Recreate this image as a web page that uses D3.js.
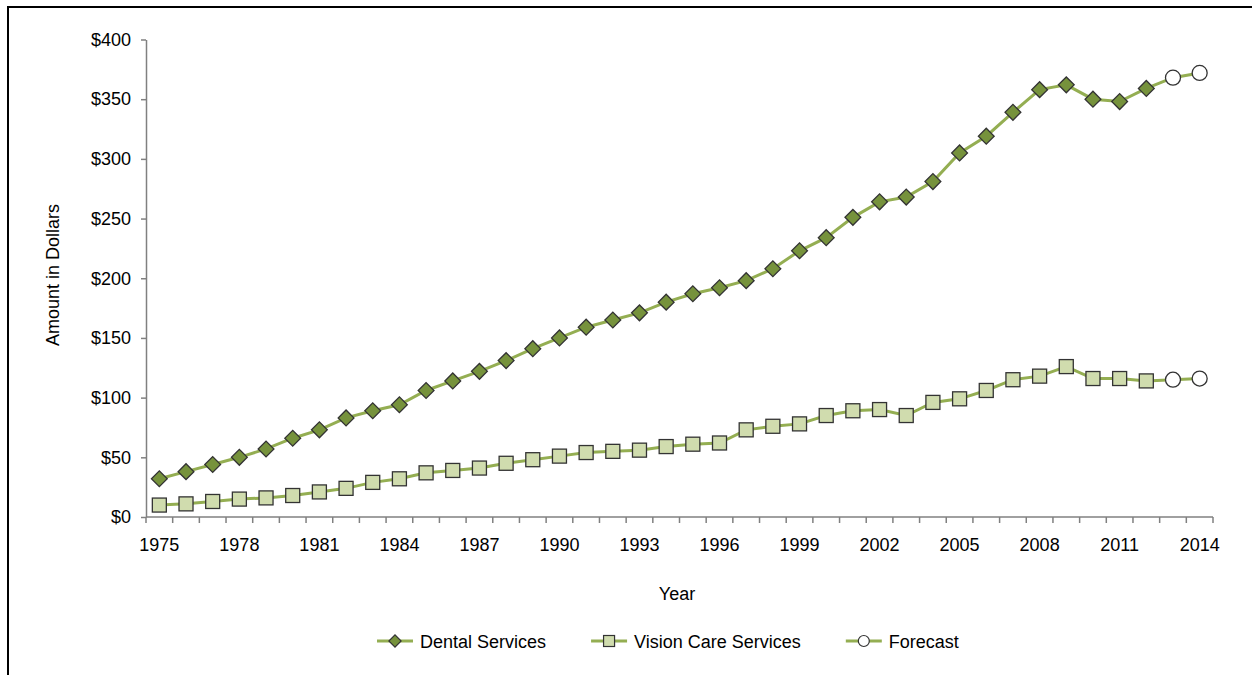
<!DOCTYPE html>
<html>
<head>
<meta charset="utf-8">
<script src="https://cdn.jsdelivr.net/npm/d3@7"></script>
<style>
  body { margin: 0; background: #fff; }
  svg { display: block; font-family: "Liberation Sans", Arial, sans-serif; }
</style>
</head>
<body>
<div id="chart"></div>
<script>
// years on the category axis
const years = d3.range(1975, 2015);
const labelYears = [1975, 1978, 1981, 1984, 1987, 1990, 1993, 1996, 1999, 2002, 2005, 2008, 2011, 2014];
const yTicks = [0, 50, 100, 150, 200, 250, 300, 350, 400];

// actual values, 1975-2012
const dental = [32, 38, 44, 50, 57, 66, 73, 83, 89, 94, 106, 114, 122, 131, 141, 150, 159, 165, 171, 180,
  187, 192, 198, 208, 223, 234, 251, 264, 268, 281, 305, 319, 339, 358, 362, 350, 348, 359];
const vision = [10, 11, 13, 15, 16, 18, 21, 24, 29, 32, 37, 39, 41, 45, 48, 51, 54, 55, 56, 59,
  61, 62, 73, 76, 78, 85, 89, 90, 85, 96, 99, 106, 115, 118, 126, 116, 116, 114];

// forecast, 2013-2014
const forecastYears = [2013, 2014];
const dentalForecast = [368, 372];
const visionForecast = [115, 116];

const W = 1252, H = 675;
const lineColor = "#94ae52";
const dentalFill = "#76923c";
const visionFill = "#d0dcae";
const markerStroke = "#333";

const svg = d3.select("#chart").append("svg")
    .attr("width", W)
    .attr("height", H);

// frame
svg.append("path")
    .attr("d", "M8,675 V7 H1252")
    .attr("fill", "none")
    .attr("stroke", "#000")
    .attr("stroke-width", 2);

const x = d3.scaleBand().domain(years).range([146, 1213]).padding(0);
const y = d3.scaleLinear().domain([0, 400]).range([517, 39.5]);
const cx = d => x(d) + x.bandwidth() / 2;

// y axis
const yAxis = svg.append("g")
    .attr("transform", "translate(146,0)")
    .call(d3.axisLeft(y).tickValues(yTicks).tickSize(5).tickSizeOuter(0).tickPadding(10)
      .tickFormat(d => "$" + d));
yAxis.select(".domain").attr("stroke", "#808080").attr("stroke-width", 1.5);
yAxis.selectAll(".tick line").attr("stroke", "#808080").attr("stroke-width", 1.5);
yAxis.selectAll("text").attr("font-size", 18).attr("fill", "#000")
    .attr("font-family", "Liberation Sans, Arial, sans-serif");

// x axis: ticks between categories, labels every 3 years
const xAxis = svg.append("g")
    .attr("transform", "translate(0,517)")
    .call(d3.axisBottom(x).tickValues(labelYears).tickSize(0).tickPadding(21));
xAxis.select(".domain").remove();
xAxis.selectAll("text").attr("font-size", 18).attr("fill", "#000")
    .attr("font-family", "Liberation Sans, Arial, sans-serif");

svg.append("line")
    .attr("x1", 146).attr("x2", 1213)
    .attr("y1", 517).attr("y2", 517)
    .attr("stroke", "#808080").attr("stroke-width", 1.5);

svg.append("g").selectAll("line")
  .data(years.concat([2015]))
  .join("line")
    .attr("x1", d => d === 2015 ? 1213 : x(d))
    .attr("x2", d => d === 2015 ? 1213 : x(d))
    .attr("y1", 517).attr("y2", 523)
    .attr("stroke", "#808080").attr("stroke-width", 1.5);

// axis titles
svg.append("text")
    .attr("transform", "translate(59,275) rotate(-90)")
    .attr("text-anchor", "middle")
    .attr("font-size", 18)
    .text("Amount in Dollars");

svg.append("text")
    .attr("x", 677).attr("y", 600)
    .attr("text-anchor", "middle")
    .attr("font-size", 18)
    .text("Year");

// series
const line = d3.line().x(d => cx(d[0])).y(d => y(d[1]));

const dentalPts = years.slice(0, dental.length).map((yr, i) => [yr, dental[i]]);
const visionPts = years.slice(0, vision.length).map((yr, i) => [yr, vision[i]]);
const dentalFc = forecastYears.map((yr, i) => [yr, dentalForecast[i]]);
const visionFc = forecastYears.map((yr, i) => [yr, visionForecast[i]]);

[dentalPts.concat(dentalFc), visionPts.concat(visionFc)].forEach(pts => {
  svg.append("path")
      .datum(pts)
      .attr("fill", "none")
      .attr("stroke", lineColor)
      .attr("stroke-width", 3)
      .attr("d", line);
});

const diamond = d3.symbol().type(d3.symbolSquare).size(125);

svg.append("g").selectAll("path")
  .data(dentalPts)
  .join("path")
    .attr("d", diamond)
    .attr("transform", d => `translate(${cx(d[0])},${y(d[1])}) rotate(45)`)
    .attr("fill", dentalFill)
    .attr("stroke", markerStroke)
    .attr("stroke-width", 1.3);

svg.append("g").selectAll("rect")
  .data(visionPts)
  .join("rect")
    .attr("x", d => cx(d[0]) - 7)
    .attr("y", d => y(d[1]) - 7)
    .attr("width", 14).attr("height", 14)
    .attr("fill", visionFill)
    .attr("stroke", markerStroke)
    .attr("stroke-width", 1.3);

svg.append("g").selectAll("circle")
  .data(dentalFc.concat(visionFc))
  .join("circle")
    .attr("cx", d => cx(d[0]))
    .attr("cy", d => y(d[1]))
    .attr("r", 7.5)
    .attr("fill", "#fff")
    .attr("stroke", markerStroke)
    .attr("stroke-width", 1.3);

// legend
const legendItems = [
  { name: "Dental Services", kind: "diamond" },
  { name: "Vision Care Services", kind: "square" },
  { name: "Forecast", kind: "circle" }
];
const legend = svg.append("g").attr("transform", "translate(0,641)");
let lx = 377;
legendItems.forEach(item => {
  const g = legend.append("g").attr("transform", `translate(${lx},0)`);
  g.append("line").attr("x1", 0).attr("x2", 36).attr("y1", 0).attr("y2", 0)
      .attr("stroke", lineColor).attr("stroke-width", 3);
  if (item.kind === "diamond") {
    g.append("path").attr("d", d3.symbol().type(d3.symbolSquare).size(75))
        .attr("transform", "translate(18,0) rotate(45)")
        .attr("fill", dentalFill).attr("stroke", markerStroke).attr("stroke-width", 1.2);
  } else if (item.kind === "square") {
    g.append("rect").attr("x", 12.5).attr("y", -5.5).attr("width", 11).attr("height", 11)
        .attr("fill", visionFill).attr("stroke", markerStroke).attr("stroke-width", 1.2);
  } else {
    g.append("circle").attr("cx", 18).attr("cy", 0).attr("r", 5.5)
        .attr("fill", "#fff").attr("stroke", markerStroke).attr("stroke-width", 1.2);
  }
  const t = g.append("text").attr("x", 43).attr("y", 6.5)
      .attr("font-size", 18).text(item.name);
  lx += 43 + t.node().getComputedTextLength() + 45;
});
</script>
</body>
</html>
